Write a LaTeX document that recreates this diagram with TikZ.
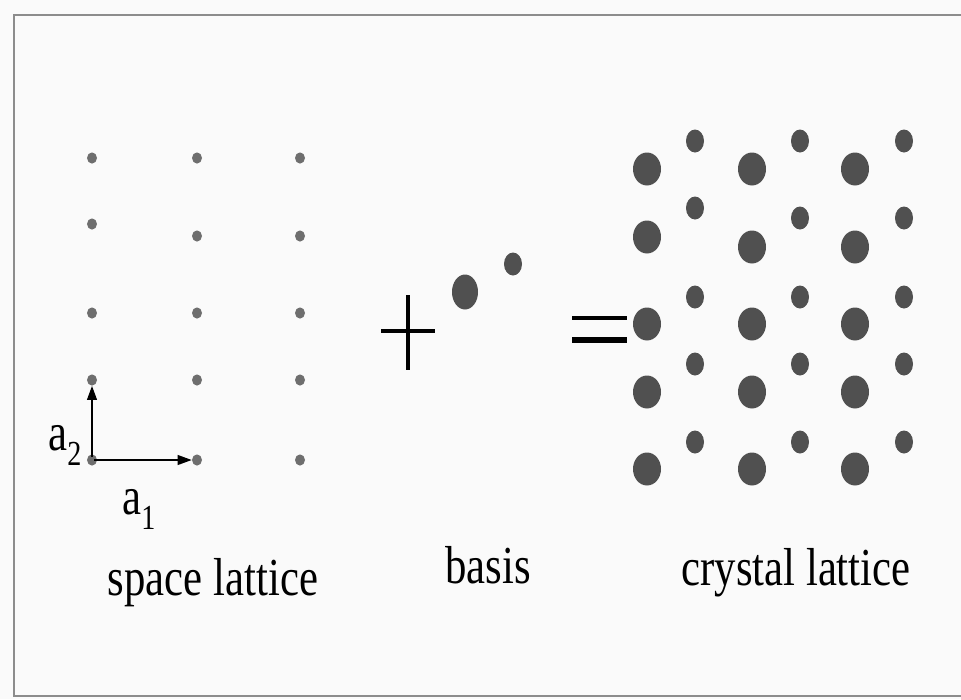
\documentclass[tikz,border=0pt]{standalone}
\usepackage{fontspec}
\usepackage{graphicx}
\usetikzlibrary{arrows.meta,shapes.geometric}
\setmainfont{Liberation Serif}
\newcommand{\narrow}[1]{\scalebox{0.8}[1]{#1}}
\definecolor{atomgray}{HTML}{505050}
\definecolor{sitegray}{HTML}{6E6E6E}
\definecolor{framegray}{HTML}{8C8C8C}

\begin{document}
\begin{tikzpicture}[
    x=0.025cm, y=-0.025cm,
    site/.style={ellipse, fill=sitegray, inner sep=0pt, minimum width=0.25cm, minimum height=0.28cm},
    bigatom/.style={ellipse, fill=atomgray, inner sep=0pt, minimum width=0.7cm, minimum height=0.825cm},
    smallatom/.style={ellipse, fill=atomgray, inner sep=0pt, minimum width=0.45cm, minimum height=0.575cm},
    vec/.style={-{Triangle[length=10pt,width=7pt]}, line width=1.1pt, shorten <=-2pt},
    sign/.style={draw=black, line width=2.6pt},
    lbl/.style={font=\rmfamily\fontsize{38}{40}\selectfont, anchor=base, inner sep=0pt},
    vlbl/.style={font=\rmfamily\fontsize{38}{40}\selectfont, anchor=base west, inner sep=0pt},
  ]

  % ---- frame
  \fill[white!98!black] (0,0) rectangle (961,699);
  \useasboundingbox (0,0) rectangle (961,699);
  \draw[framegray, line width=1.6pt] (961,15) -- (14,15) -- (14,696) -- (961,696);

  % ---- space lattice with primitive vectors
  \foreach \c/\x/\yy in {1/92/224, 2/197/236, 3/300/236}
    \foreach \r/\y in {1/158, 2/\yy, 3/313, 4/380, 5/460}
      \node[site] (s\c\r) at (\x,\y) {};
  \draw[vec] (s15) -- (s25);
  \draw[vec] (s15) -- (s14);
  \node[vlbl] (atwo) at (48,450) {\narrow{a\raisebox{-11pt}{\fontsize{25}{25}\selectfont 2}}};
  \node[vlbl] (aone) at (122,514) {\narrow{a\raisebox{-11pt}{\fontsize{25}{25}\selectfont 1}}};
  \node[lbl] (spacelbl) at (213,595) {\narrow{space lattice}};

  % ---- plus sign and two-atom basis
  \draw[sign] (381,331) -- (435,331);
  \draw[sign] (408,295) -- (408,370);
  \node[bigatom, minimum width=0.65cm, minimum height=0.875cm] (bas1) at (465,292) {};
  \node[smallatom] (bas2) at (513,264) {};
  \node[lbl] (basislbl) at (488,583) {\narrow{basis}};

  % ---- equals sign
  \draw[sign, line width=2.8pt] (572,318) -- (627,318);
  \draw[sign, line width=4.6pt] (572,340) -- (627,340);

  % ---- crystal lattice = lattice + basis
  \foreach \c/\x/\yy in {1/647/237, 2/752/247, 3/855/247}
    \foreach \r/\y in {1/169, 2/\yy, 3/324, 4/392, 5/469}
      \node[bigatom] (b\c\r) at (\x,\y) {};
  \foreach \c/\x/\yy in {1/695/208, 2/800/218, 3/904/218}
    \foreach \r/\y in {1/141, 2/\yy, 3/297, 4/364, 5/442}
      \node[smallatom] (m\c\r) at (\x,\y) {};
  \node[lbl] (crystallbl) at (796,585) {\narrow{crystal lattice}};
\end{tikzpicture}
\end{document}
